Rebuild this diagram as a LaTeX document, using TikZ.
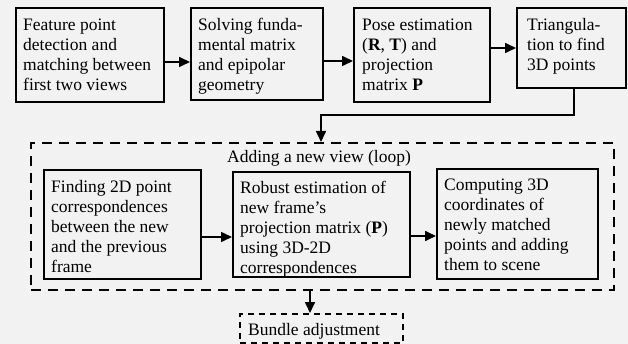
\documentclass[tikz,border=0pt]{standalone}
\usepackage{fontspec}
\setmainfont{Liberation Serif}
\usetikzlibrary{arrows.meta}
\begin{document}
\begin{tikzpicture}[x=1pt,y=-1pt,
  box/.style={draw, line width=1.6pt, rectangle, inner sep=0pt, anchor=north west},
  dbox/.style={draw, line width=2.4pt, dash pattern=on 10pt off 7pt, rectangle, inner sep=0pt, anchor=north west},
  dboxb/.style={draw, line width=1.5pt, dash pattern=on 6pt off 5pt, rectangle, inner sep=0pt, anchor=north west},
  txt/.style={align=left, inner sep=0pt, font=\fontsize{17.5}{20}\selectfont, anchor=north west},
  arr/.style={line width=1.6pt, -{Triangle[length=11pt,width=10pt]}}]
\fill[gray!10] (0,0) rectangle (628,344);
\useasboundingbox (0,0) rectangle (628,344);
% top row
\node[box, minimum width=148pt, minimum height=94pt] (b1) at (15,7) {};
\node[txt] (t1) at (23,18.5) {Feature point\\detection and\\matching between\\first two views};
\node[box, minimum width=132pt, minimum height=92pt] (b2) at (190,7) {};
\node[txt] (t2) at (198,17.5) {Solving funda-\\mental matrix\\and epipolar\\geometry};
\node[box, minimum width=136pt, minimum height=94pt] (b3) at (353,7) {};
\node[txt] (t3) at (362,18.5) {Pose estimation\\(\textbf{R}, \textbf{T}) and\\projection\\matrix \textbf{P}};
\node[box, minimum width=109pt, minimum height=80pt] (b4) at (516,7) {};
\node[txt] (t4) at (527,18.5) {Triangula-\\tion to find\\3D points};
% loop
\node[dbox, minimum width=583pt, minimum height=147pt] (loop) at (30,142) {};
\node[inner sep=0pt, font=\fontsize{17.5}{20}\selectfont, anchor=base] (title) at (319,163) {Adding a new view (loop)};
\node[box, minimum width=157pt, minimum height=109pt] (b5) at (43,169) {};
\node[txt] (t5) at (51,180.5) {Finding 2D point\\correspondences\\between the new\\and the previous\\frame};
\node[box, minimum width=177pt, minimum height=105pt] (b6) at (232,171) {};
\node[txt] (t6) at (240,180.5) {Robust estimation of\\new frame’s\\projection matrix (\textbf{P})\\using 3D-2D\\correspondences};
\node[box, minimum width=161pt, minimum height=110pt] (b7) at (436,168) {};
\node[txt] (t7) at (444,178.5) {Computing 3D\\coordinates of\\newly matched\\points and adding\\them to scene};
% bundle
\node[dboxb, minimum width=163pt, minimum height=29pt] (ba) at (239,313) {};
\node[inner sep=0pt, font=\fontsize{17.5}{20}\selectfont, anchor=base west] (tba) at (248,335) {Bundle adjustment};
% arrows
\draw[arr] (b1.east |- 0,62) -- (b2.west |- 0,62);
\draw[arr] (b2.east |- 0,61) -- (b3.west |- 0,61);
\draw[arr] (b3.east |- 0,48) -- (b4.west |- 0,48);
\draw[arr] ([xshift=2.5pt]b4.south) |- (321,115) -- (loop.north -| 321,0);
\draw[arr] (b5.east |- 0,237) -- (b6.west |- 0,237);
\draw[arr] (b6.east |- 0,236) -- (b7.west |- 0,236);
\draw[arr] (loop.south -| 310,0) -- (ba.north -| 310,0);
\end{tikzpicture}
\end{document}
